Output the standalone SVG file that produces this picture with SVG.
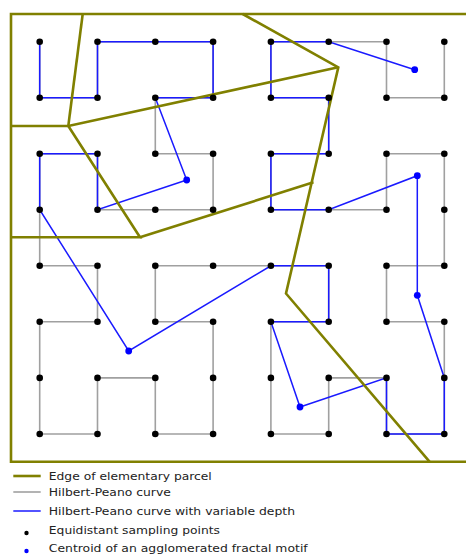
<svg xmlns="http://www.w3.org/2000/svg" width="466" height="558" viewBox="0 0 466 558">
<style>
.edge{fill:none;stroke:#808000;stroke-width:2.6;stroke-linejoin:miter}
.hp{fill:none;stroke:#a0a0a0;stroke-width:1.6}
.vd{fill:none;stroke:#1a1aff;stroke-width:1.5}
.pt{fill:#000}
.ct{fill:#0000ff}
text{font-family:"DejaVu Sans",sans-serif;font-size:11px;fill:#222}
</style>
<rect width="466" height="558" fill="#fff"/>
<g id="connectors">
<polyline id="hilbert-peano" class="hp" points="39.7,41.7 39.7,97.7 97.5,97.7 97.5,41.7 155.3,41.7 213.1,41.7 213.1,97.7 155.3,97.7 155.3,153.7 213.1,153.7 213.1,209.7 155.3,209.7 97.5,209.7 97.5,153.7 39.7,153.7 39.7,209.7 39.7,265.8 97.5,265.8 97.5,321.8 39.7,321.8 39.7,377.9 39.7,434 97.5,434 97.5,377.9 155.3,377.9 155.3,434 213.1,434 213.1,377.9 213.1,321.8 155.3,321.8 155.3,265.8 213.1,265.8 270.9,265.8 328.7,265.8 328.7,321.8 270.9,321.8 270.9,377.9 270.9,434 328.7,434 328.7,377.9 386.5,377.9 386.5,434 444.3,434 444.3,377.9 444.3,321.8 386.5,321.8 386.5,265.8 444.3,265.8 444.3,209.7 444.3,153.7 386.5,153.7 386.5,209.7 328.7,209.7 270.9,209.7 270.9,153.7 328.7,153.7 328.7,97.7 270.9,97.7 270.9,41.7 328.7,41.7 386.5,41.7 386.5,97.7 444.3,97.7 444.3,41.7"/>
<polyline id="variable-depth" class="vd" points="39.7,41.7 39.7,97.7 97.5,97.7 97.5,41.7 155.3,41.7 213.1,41.7 213.1,97.7 155.3,97.7 186.7,180 97.5,209.7 97.5,153.7 39.7,153.7 39.7,209.7 128.7,351 270.9,265.8 328.7,265.8 328.7,321.8 270.9,321.8 300,407 386.5,377.9 386.5,434 444.3,434 444.3,377.9 417.3,295.3 417.3,175.7 328.7,209.7 270.9,209.7 270.9,153.7 328.7,153.7 328.7,97.7 270.9,97.7 270.9,41.7 328.7,41.7 414.7,69.7"/>
</g>
<g id="parcel-edges">
<polyline class="edge" points="470,14 11,14 11,461.7 470,461.7"/>
<polyline class="edge" points="82.7,14 68.3,126"/>
<polyline class="edge" points="11,126 68.3,126 338.3,67.3"/>
<polyline class="edge" points="242.7,14 338.3,67.3 286,293.5 429.5,461.7"/>
<polyline class="edge" points="68.3,126 140,237.3 11,237.3"/>
<polyline class="edge" points="140,237.3 313.5,182.3"/>
</g>
<g id="sampling-points" class="pt">
<circle cx="39.7" cy="41.7" r="3.3"/><circle cx="97.5" cy="41.7" r="3.3"/><circle cx="155.3" cy="41.7" r="3.3"/><circle cx="213.1" cy="41.7" r="3.3"/><circle cx="270.9" cy="41.7" r="3.3"/><circle cx="328.7" cy="41.7" r="3.3"/><circle cx="386.5" cy="41.7" r="3.3"/><circle cx="444.3" cy="41.7" r="3.3"/>
<circle cx="39.7" cy="97.7" r="3.3"/><circle cx="97.5" cy="97.7" r="3.3"/><circle cx="155.3" cy="97.7" r="3.3"/><circle cx="213.1" cy="97.7" r="3.3"/><circle cx="270.9" cy="97.7" r="3.3"/><circle cx="328.7" cy="97.7" r="3.3"/><circle cx="386.5" cy="97.7" r="3.3"/><circle cx="444.3" cy="97.7" r="3.3"/>
<circle cx="39.7" cy="153.7" r="3.3"/><circle cx="97.5" cy="153.7" r="3.3"/><circle cx="155.3" cy="153.7" r="3.3"/><circle cx="213.1" cy="153.7" r="3.3"/><circle cx="270.9" cy="153.7" r="3.3"/><circle cx="328.7" cy="153.7" r="3.3"/><circle cx="386.5" cy="153.7" r="3.3"/><circle cx="444.3" cy="153.7" r="3.3"/>
<circle cx="39.7" cy="209.7" r="3.3"/><circle cx="97.5" cy="209.7" r="3.3"/><circle cx="155.3" cy="209.7" r="3.3"/><circle cx="213.1" cy="209.7" r="3.3"/><circle cx="270.9" cy="209.7" r="3.3"/><circle cx="328.7" cy="209.7" r="3.3"/><circle cx="386.5" cy="209.7" r="3.3"/><circle cx="444.3" cy="209.7" r="3.3"/>
<circle cx="39.7" cy="265.8" r="3.3"/><circle cx="97.5" cy="265.8" r="3.3"/><circle cx="155.3" cy="265.8" r="3.3"/><circle cx="213.1" cy="265.8" r="3.3"/><circle cx="270.9" cy="265.8" r="3.3"/><circle cx="328.7" cy="265.8" r="3.3"/><circle cx="386.5" cy="265.8" r="3.3"/><circle cx="444.3" cy="265.8" r="3.3"/>
<circle cx="39.7" cy="321.8" r="3.3"/><circle cx="97.5" cy="321.8" r="3.3"/><circle cx="155.3" cy="321.8" r="3.3"/><circle cx="213.1" cy="321.8" r="3.3"/><circle cx="270.9" cy="321.8" r="3.3"/><circle cx="328.7" cy="321.8" r="3.3"/><circle cx="386.5" cy="321.8" r="3.3"/><circle cx="444.3" cy="321.8" r="3.3"/>
<circle cx="39.7" cy="377.9" r="3.3"/><circle cx="97.5" cy="377.9" r="3.3"/><circle cx="155.3" cy="377.9" r="3.3"/><circle cx="213.1" cy="377.9" r="3.3"/><circle cx="270.9" cy="377.9" r="3.3"/><circle cx="328.7" cy="377.9" r="3.3"/><circle cx="386.5" cy="377.9" r="3.3"/><circle cx="444.3" cy="377.9" r="3.3"/>
<circle cx="39.7" cy="434" r="3.3"/><circle cx="97.5" cy="434" r="3.3"/><circle cx="155.3" cy="434" r="3.3"/><circle cx="213.1" cy="434" r="3.3"/><circle cx="270.9" cy="434" r="3.3"/><circle cx="328.7" cy="434" r="3.3"/><circle cx="386.5" cy="434" r="3.3"/><circle cx="444.3" cy="434" r="3.3"/>
</g>
<g id="centroids" class="ct">
<circle cx="186.7" cy="180" r="3.4"/>
<circle cx="128.7" cy="351" r="3.4"/>
<circle cx="300" cy="407" r="3.4"/>
<circle cx="417.3" cy="295.3" r="3.4"/>
<circle cx="417.3" cy="175.7" r="3.4"/>
<circle cx="414.7" cy="69.7" r="3.4"/>
</g>
<g id="legend">
<line x1="13.3" y1="476" x2="40.7" y2="476" class="edge"/>
<text x="48.8" y="479.5" textLength="163" lengthAdjust="spacingAndGlyphs">Edge of elementary parcel</text>
<line x1="13.3" y1="492" x2="40.7" y2="492" class="hp"/>
<text x="48.8" y="495.7" textLength="122" lengthAdjust="spacingAndGlyphs">Hilbert-Peano curve</text>
<line x1="13.3" y1="511" x2="40.7" y2="511" class="vd"/>
<text x="48.8" y="515" textLength="246.2" lengthAdjust="spacingAndGlyphs">Hilbert-Peano curve with variable depth</text>
<circle cx="26.5" cy="533" r="2.2" class="pt"/>
<text x="48.8" y="534" textLength="171.2" lengthAdjust="spacingAndGlyphs">Equidistant sampling points</text>
<circle cx="26.5" cy="551" r="2.2" class="ct"/>
<text x="48.8" y="552.3" textLength="258.9" lengthAdjust="spacingAndGlyphs">Centroid of an agglomerated fractal motif</text>
</g>
</svg>
